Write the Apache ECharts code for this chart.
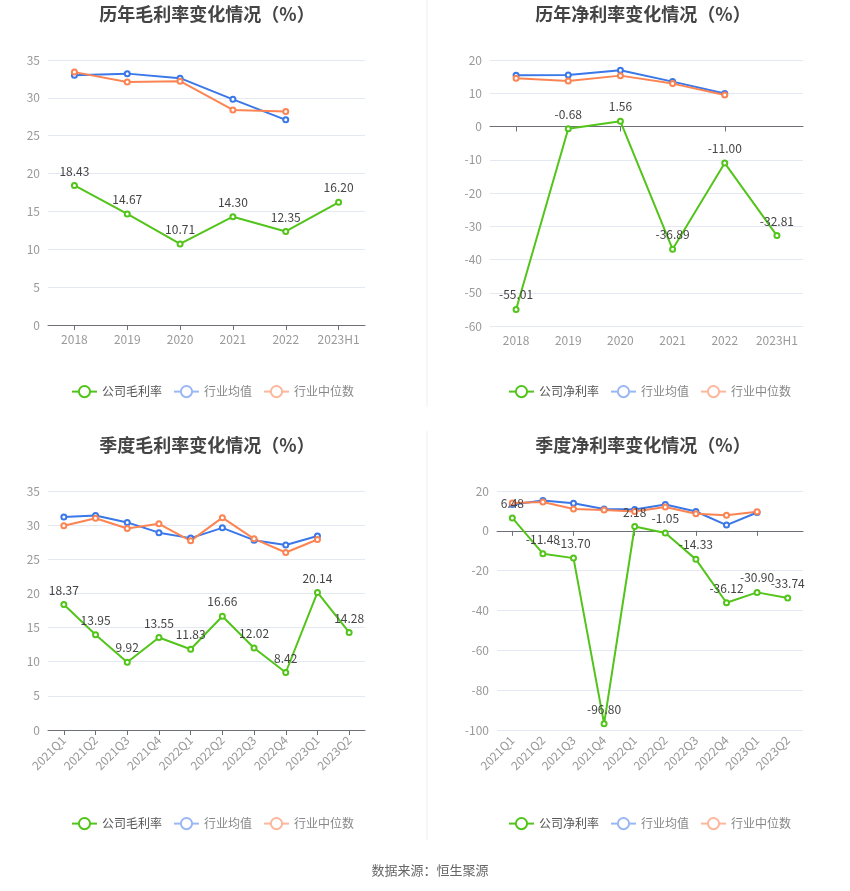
<!DOCTYPE html>
<html><head><meta charset="utf-8">
<script src="https://cdn.jsdelivr.net/npm/echarts@6/dist/echarts.min.js"></script>
<style>html,body{margin:0;padding:0;background:#fff}#c{width:850px;height:891px}</style>
</head><body><div id="c"></div>
<script>
const yearCats = ['2018','2019','2020','2021','2022','2023H1'];
const quarterCats = ['2021Q1','2021Q2','2021Q3','2021Q4','2022Q1','2022Q2','2022Q3','2022Q4','2023Q1','2023Q2'];

const yearGross = [18.43, 14.67, 10.71, 14.30, 12.35, 16.20];
const yearGrossAvg = [33.0, 33.2, 32.6, 29.8, 27.1];
const yearGrossMed = [33.4, 32.1, 32.2, 28.4, 28.2];

const yearNet = [-55.01, -0.68, 1.56, -36.89, -11.00, -32.81];
const yearNetAvg = [15.4, 15.5, 16.9, 13.5, 9.9];
const yearNetMed = [14.5, 13.7, 15.3, 12.9, 9.5];

const qGross = [18.37, 13.95, 9.92, 13.55, 11.83, 16.66, 12.02, 8.42, 20.14, 14.28];
const qGrossAvg = [31.2, 31.4, 30.4, 28.9, 28.1, 29.6, 27.8, 27.1, 28.4];
const qGrossMed = [29.9, 31.0, 29.5, 30.2, 27.7, 31.1, 28.0, 26.0, 27.9];

const qNet = [6.48, -11.48, -13.70, -96.80, 2.18, -1.05, -14.33, -36.12, -30.90, -33.74];
const qNetAvg = [13.2, 15.2, 13.9, 11.0, 10.7, 13.2, 9.7, 2.9, 9.2];
const qNetMed = [14.0, 14.5, 11.0, 10.5, 9.7, 12.0, 8.6, 7.8, 9.6];

const GREEN = '#52c41a', BLUE = '#3a77e8', ORANGE = '#fc8453';
const FONT = '"Noto Sans CJK SC", "Noto Sans", sans-serif';

const chart = echarts.init(document.getElementById('c'), null, {renderer: 'canvas'});

const grids = [
  {left: 48, right: 485, top: 60, bottom: 566},
  {left: 490, right: 47, top: 60, bottom: 565},
  {left: 48, right: 485, top: 491, bottom: 161},
  {left: 497, right: 47, top: 491, bottom: 161}
];

const axisLabelStyle = {color: '#999', fontSize: 12, fontFamily: FONT};
const splitLine = {show: true, lineStyle: {color: '#e3e8f3', width: 1}};
const axisLineStyle = {color: '#6e7079', width: 1};

function yAx(grid, min, max, interval) {
  return {type: 'value', gridIndex: grid, min, max, interval,
    axisLabel: Object.assign({margin: 8}, axisLabelStyle),
    axisLine: {show: false}, axisTick: {show: false}, splitLine};
}
function xLabelAx(grid, cats, rotate, showLine) {
  return {type: 'category', gridIndex: grid, data: cats, position: 'bottom', boundaryGap: true,
    axisLabel: Object.assign({rotate: rotate, margin: 8, interval: 0}, axisLabelStyle),
    axisLine: {show: showLine, onZero: false, lineStyle: axisLineStyle},
    axisTick: {show: showLine, alignWithLabel: true, lineStyle: axisLineStyle},
    splitLine: {show: false}};
}
function xZeroAx(grid, cats) {
  return {type: 'category', gridIndex: grid, data: cats, position: 'bottom', boundaryGap: true,
    axisLabel: {show: false},
    axisLine: {show: true, onZero: true, lineStyle: axisLineStyle},
    axisTick: {show: true, alignWithLabel: true, lineStyle: axisLineStyle},
    splitLine: {show: false}};
}

function lineSeries(name, data, color, xi, yi, withLabel) {
  return {type: 'line', name, data, xAxisIndex: xi, yAxisIndex: yi,
    symbol: 'emptyCircle', symbolSize: 5, showSymbol: true,
    lineStyle: {color, width: 2}, itemStyle: {color, borderWidth: 1.5},
    label: withLabel ? {show: true, position: 'top', color: '#444', fontSize: 12, fontFamily: FONT,
      formatter: p => Number(p.value).toFixed(2)} : {show: false},
    emphasis: {disabled: true}, z: withLabel ? 3 : 2};
}

function legend(first, left, top) {
  return {top, left, itemWidth: 25, itemHeight: 14, itemGap: 11,
    textStyle: {fontSize: 12, fontFamily: FONT, color: '#888'}, selectedMode: false,
    data: [
      {name: first, textStyle: {color: '#555'}, itemStyle: {color: GREEN, borderWidth: 2}, lineStyle: {color: GREEN}},
      {name: '行业均值', itemStyle: {color: '#9ab8f4', borderWidth: 2}, lineStyle: {color: '#9ab8f4'}},
      {name: '行业中位数', itemStyle: {color: '#fdb79d', borderWidth: 2}, lineStyle: {color: '#fdb79d'}}
    ]};
}

const titleStyle = {fontSize: 18, fontWeight: 'bold', color: '#444', fontFamily: FONT};

const option = {
  animation: false,
  title: [
    {text: '历年毛利率变化情况（%）', left: 202, top: 0, textAlign: 'center', textStyle: titleStyle},
    {text: '历年净利率变化情况（%）', left: 638, top: 0, textAlign: 'center', textStyle: titleStyle},
    {text: '季度毛利率变化情况（%）', left: 202, top: 431, textAlign: 'center', textStyle: titleStyle},
    {text: '季度净利率变化情况（%）', left: 638, top: 431, textAlign: 'center', textStyle: titleStyle},
    {text: '数据来源：恒生聚源', left: 425, top: 859, textAlign: 'center',
      textStyle: {fontSize: 13, fontWeight: 'normal', color: '#666', fontFamily: FONT}}
  ],
  legend: [
    legend('公司毛利率', 66, 380),
    legend('公司净利率', 503, 380),
    legend('公司毛利率', 66, 812),
    legend('公司净利率', 503, 812)
  ],
  grid: grids,
  xAxis: [
    xLabelAx(0, yearCats, 0, true),
    xLabelAx(1, yearCats, 0, false),
    xZeroAx(1, yearCats),
    xLabelAx(2, quarterCats, 45, true),
    xLabelAx(3, quarterCats, 45, false),
    xZeroAx(3, quarterCats)
  ],
  yAxis: [
    yAx(0, 0, 35, 5),
    yAx(1, -60, 20, 10),
    yAx(2, 0, 35, 5),
    yAx(3, -100, 20, 20)
  ],
  graphic: [
    {type: 'line', shape: {x1: 427, y1: 0, x2: 427, y2: 407}, style: {stroke: '#efefef', lineWidth: 1}},
    {type: 'line', shape: {x1: 427, y1: 431, x2: 427, y2: 840}, style: {stroke: '#efefef', lineWidth: 1}}
  ],
  series: [
    lineSeries('行业均值', yearGrossAvg, BLUE, 0, 0, false),
    lineSeries('行业中位数', yearGrossMed, ORANGE, 0, 0, false),
    lineSeries('公司毛利率', yearGross, GREEN, 0, 0, true),

    lineSeries('行业均值', yearNetAvg, BLUE, 1, 1, false),
    lineSeries('行业中位数', yearNetMed, ORANGE, 1, 1, false),
    lineSeries('公司净利率', yearNet, GREEN, 1, 1, true),

    lineSeries('行业均值', qGrossAvg, BLUE, 3, 2, false),
    lineSeries('行业中位数', qGrossMed, ORANGE, 3, 2, false),
    lineSeries('公司毛利率', qGross, GREEN, 3, 2, true),

    lineSeries('行业均值', qNetAvg, BLUE, 4, 3, false),
    lineSeries('行业中位数', qNetMed, ORANGE, 4, 3, false),
    lineSeries('公司净利率', qNet, GREEN, 4, 3, true)
  ]
};
chart.setOption(option);
</script>
</body></html>
